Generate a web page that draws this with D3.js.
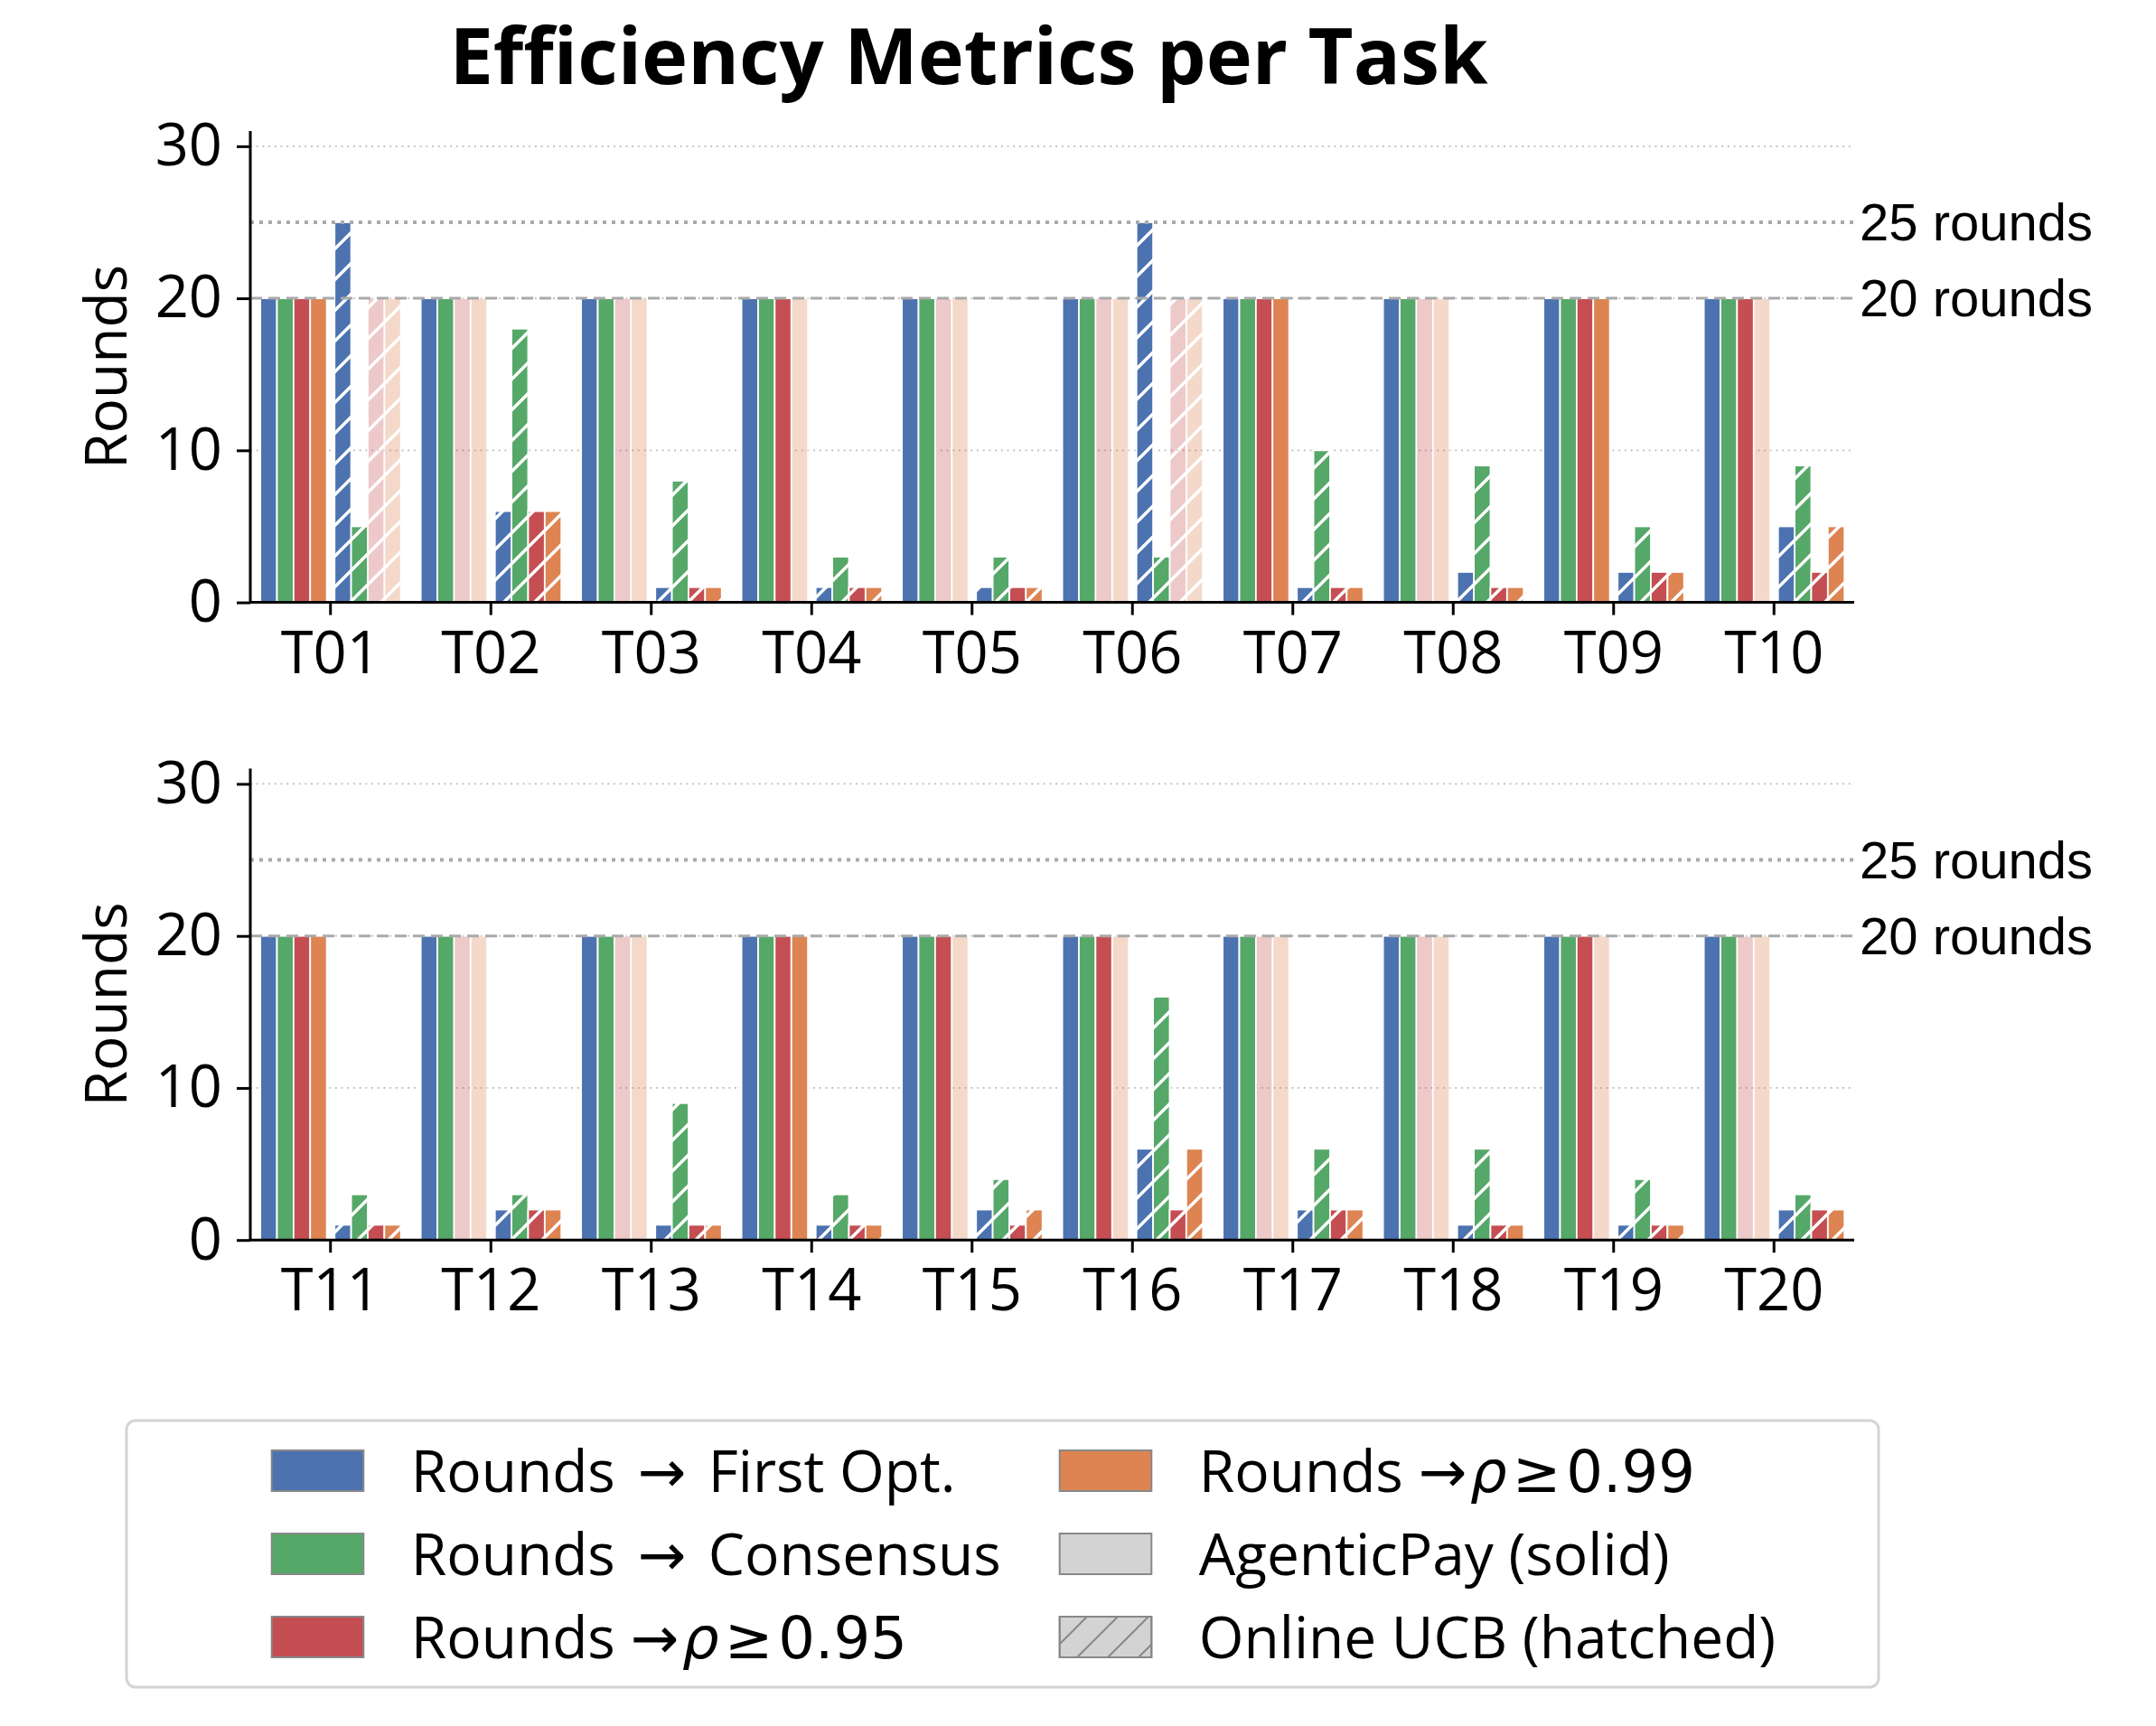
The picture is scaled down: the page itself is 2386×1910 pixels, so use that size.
<!DOCTYPE html>
<html>
<head>
<meta charset="utf-8">
<script src="https://cdn.jsdelivr.net/npm/d3@7"></script>
<style>
  body { margin: 0; background: #fff; }
  text { font-family: "Open Sans", "DejaVu Sans", sans-serif; fill: #000; }
</style>
</head>
<body>
<svg id="chart" width="2386" height="1910"></svg>
<script>
// ---- data ----
var tasks = ["T01","T02","T03","T04","T05","T06","T07","T08","T09","T10",
             "T11","T12","T13","T14","T15","T16","T17","T18","T19","T20"];

var seriesColors = ["#4C72B0", "#55A868", "#C44E52", "#DD8452"];

// AgenticPay (solid bars)
var agenticFirstOpt  = [20,20,20,20,20,20,20,20,20,20, 20,20,20,20,20,20,20,20,20,20];
var agenticConsensus = [20,20,20,20,20,20,20,20,20,20, 20,20,20,20,20,20,20,20,20,20];
var agenticRho95     = [20,20,20,20,20,20,20,20,20,20, 20,20,20,20,20,20,20,20,20,20];
var agenticRho99     = [20,20,20,20,20,20,20,20,20,20, 20,20,20,20,20,20,20,20,20,20];

// Online UCB (hatched bars)
var ucbFirstOpt  = [25, 6, 1, 1, 1,25, 1, 2, 2, 5,  1, 2, 1, 1, 2, 6, 2, 1, 1, 2];
var ucbConsensus = [ 5,18, 8, 3, 3, 3,10, 9, 5, 9,  3, 3, 9, 3, 4,16, 6, 6, 4, 3];
var ucbRho95     = [20, 6, 1, 1, 1,20, 1, 1, 2, 2,  1, 2, 1, 1, 1, 2, 2, 1, 1, 2];
var ucbRho99     = [20, 6, 1, 1, 1,20, 1, 1, 2, 5,  1, 2, 1, 1, 2, 6, 2, 1, 1, 2];

// 1 = threshold never reached (bar drawn faded at the cap)
var agenticRho95Capped = [0,1,1,0,1,1,0,1,0,0, 0,1,1,0,0,0,1,1,0,1];
var agenticRho99Capped = [0,1,1,1,1,1,0,1,0,1, 0,1,1,0,1,1,1,1,1,1];
var ucbRho95Capped     = [1,0,0,0,0,1,0,0,0,0, 0,0,0,0,0,0,0,0,0,0];
var ucbRho99Capped     = [1,0,0,0,0,1,0,0,0,0, 0,0,0,0,0,0,0,0,0,0];
var noneCapped         = [0,0,0,0,0,0,0,0,0,0, 0,0,0,0,0,0,0,0,0,0];

var yTicks = [0, 10, 20, 30];
var refLines = [{ value: 25, label: "25 rounds", kind: "dot" },
                { value: 20, label: "20 rounds", kind: "dash" }];

// label parts: plain text, then optional math part (arrow, rho, geq, number)
var legendItems = [
  { text: "Rounds → First Opt.", color: seriesColors[0] },
  { text: "Rounds → Consensus", color: seriesColors[1] },
  { text: "Rounds ", math: "0.95", color: seriesColors[2] },
  { text: "Rounds ", math: "0.99", color: seriesColors[3] },
  { text: "AgenticPay (solid)", color: "#d3d3d3" },
  { text: "Online UCB (hatched)", color: "#d3d3d3", hatch: true }
];

// ---- build ----
var methods = [
  { hatched: false, values: [agenticFirstOpt, agenticConsensus, agenticRho95, agenticRho99],
    capped: [noneCapped, noneCapped, agenticRho95Capped, agenticRho99Capped] },
  { hatched: true, values: [ucbFirstOpt, ucbConsensus, ucbRho95, ucbRho99],
    capped: [noneCapped, noneCapped, ucbRho95Capped, ucbRho99Capped] }
];

var svg = d3.select("#chart");
var defs = svg.append("defs");

function addHatch(id, color, width) {
  var p = 34;
  defs.append("pattern")
    .attr("id", id).attr("patternUnits", "userSpaceOnUse")
    .attr("width", p).attr("height", p)
    .append("path")
    .attr("d", "M-2,2 l4,-4 M0," + p + " l" + p + "," + (-p) + " M" + (p - 2) + "," + (p + 2) + " l4,-4")
    .attr("stroke", color).attr("stroke-width", width);
}
addHatch("hatchWhite", "#fff", 3.5);
addHatch("hatchGray", "#888", 2);

var left = 277, right = 2052;
var barW = 0.1035;

svg.append("text")
  .attr("x", 1072).attr("y", 93)
  .attr("text-anchor", "middle")
  .style("font-size", "86.5px").style("font-weight", "bold")
  .text("Efficiency Metrics per Task");

[0, 1].forEach(function(p) {
  var dy = p * 705.6;
  var panelTasks = tasks.slice(p * 10, p * 10 + 10);
  var x = d3.scaleBand().domain(panelTasks).range([left, right]).padding(0);
  var y = d3.scaleLinear().domain([0, 31]).range([666.6 + dy, 145 + dy]);
  var bw = x.bandwidth();
  var g = svg.append("g");

  // grid
  g.selectAll(".grid").data(yTicks).enter().append("line")
    .attr("x1", left).attr("x2", right)
    .attr("y1", function(d) { return y(d); }).attr("y2", function(d) { return y(d); })
    .attr("stroke", "#bdbdbd").attr("stroke-width", 1.8)
    .attr("stroke-dasharray", "2,4.7");

  // bars
  methods.forEach(function(m, mi) {
    m.values.forEach(function(vals, s) {
      var off = mi === 0 ? -(0.075 + (3 - s) * barW) : (0.077 + s * barW);
      panelTasks.forEach(function(t, i) {
        var k = p * 10 + i;
        var v = vals[k];
        var cx = x(t) + bw / 2 + off * bw;
        var bg = g.append("g").attr("opacity", m.capped[s][k] ? 0.3 : 1);
        bg.append("rect")
          .attr("x", cx - barW * bw / 2).attr("width", barW * bw)
          .attr("y", y(v)).attr("height", y(0) - y(v))
          .attr("fill", seriesColors[s])
          .attr("stroke", "#fff").attr("stroke-width", 1.8);
        if (m.hatched) {
          bg.append("rect")
            .attr("x", cx - barW * bw / 2).attr("width", barW * bw)
            .attr("y", y(v)).attr("height", y(0) - y(v))
            .attr("fill", "url(#hatchWhite)");
        }
      });
    });
  });

  // reference lines
  refLines.forEach(function(r) {
    g.append("line")
      .attr("x1", left).attr("x2", right)
      .attr("y1", y(r.value)).attr("y2", y(r.value))
      .attr("stroke", "#aaaaaa")
      .attr("stroke-width", r.kind === "dot" ? 4 : 3)
      .attr("stroke-dasharray", r.kind === "dot" ? "4,6" : "13,7");
    g.append("text")
      .attr("x", right + 6).attr("y", y(r.value))
      .attr("dy", "0.35em")
      .style("font-family", "'Liberation Sans', Arial, sans-serif")
      .style("font-size", "58px")
      .text(r.label);
  });

  // axes
  var xAxis = d3.axisBottom(x).tickSize(14).tickPadding(18);
  var yAxis = d3.axisLeft(y).tickValues(yTicks).tickSize(15).tickPadding(16);

  var gx = g.append("g").attr("transform", "translate(0," + y(0) + ")").call(xAxis);
  var gy = g.append("g").attr("transform", "translate(" + left + ",0)").call(yAxis);
  [gx, gy].forEach(function(a) {
    a.select(".domain").attr("stroke", "#000").attr("stroke-width", 3);
    a.selectAll(".tick line").attr("stroke", "#000").attr("stroke-width", 3);
    a.selectAll(".tick text")
      .style("font-family", "'Open Sans', sans-serif")
      .style("font-size", "65px").attr("fill", "#000");
  });
  gx.select(".domain").attr("d", "M" + left + ",0H" + right);
  gy.select(".domain").attr("d", "M0," + y(31) + "V" + y(0));

  g.append("text")
    .attr("transform", "translate(140," + ((y(0) + y(31)) / 2) + ") rotate(-90)")
    .attr("text-anchor", "middle")
    .style("font-size", "64px")
    .text("Rounds");
});

// legend
var lg = svg.append("g");
lg.append("rect")
  .attr("x", 140).attr("y", 1572).attr("width", 1939).attr("height", 295)
  .attr("rx", 10).attr("fill", "#fff")
  .attr("stroke", "#d4d4d4").attr("stroke-width", 3);

var colX = [300.7, 1172.7], rowY = [1605, 1697, 1789];
legendItems.forEach(function(it, i) {
  var cx = colX[Math.floor(i / 3)], ry = rowY[i % 3];
  lg.append("rect")
    .attr("x", cx).attr("y", ry).attr("width", 101.6).attr("height", 45)
    .attr("fill", it.color).attr("stroke", "#888").attr("stroke-width", 2);
  if (it.hatch) {
    lg.append("rect")
      .attr("x", cx).attr("y", ry).attr("width", 101.6).attr("height", 45)
      .attr("fill", "url(#hatchGray)").attr("stroke", "#888").attr("stroke-width", 2);
  }
  var t = lg.append("text")
    .attr("x", cx + 154).attr("y", ry + 22.5).attr("dy", "0.36em")
    .style("font-size", "64px");
  if (it.math) {
    t.append("tspan").text(it.text);
    t.append("tspan").style("font-family", "'DejaVu Sans', sans-serif").text("→");
    t.append("tspan").style("font-family", "'DejaVu Sans', sans-serif")
      .style("font-style", "italic").attr("dx", 4).text("ρ");
    t.append("tspan").style("font-family", "'DejaVu Sans', sans-serif").attr("dx", 6).text("≥");
    t.append("tspan").style("font-family", "'DejaVu Sans', sans-serif").attr("dx", 6).text(it.math);
  } else if (it.text.indexOf("→") >= 0) {
    var parts = it.text.split("→");
    t.append("tspan").text(parts[0]);
    t.append("tspan").attr("dx", 8).text("→");
    t.append("tspan").attr("dx", 8).text(parts[1]);
  } else {
    t.text(it.text);
  }
});
</script>
</body>
</html>
